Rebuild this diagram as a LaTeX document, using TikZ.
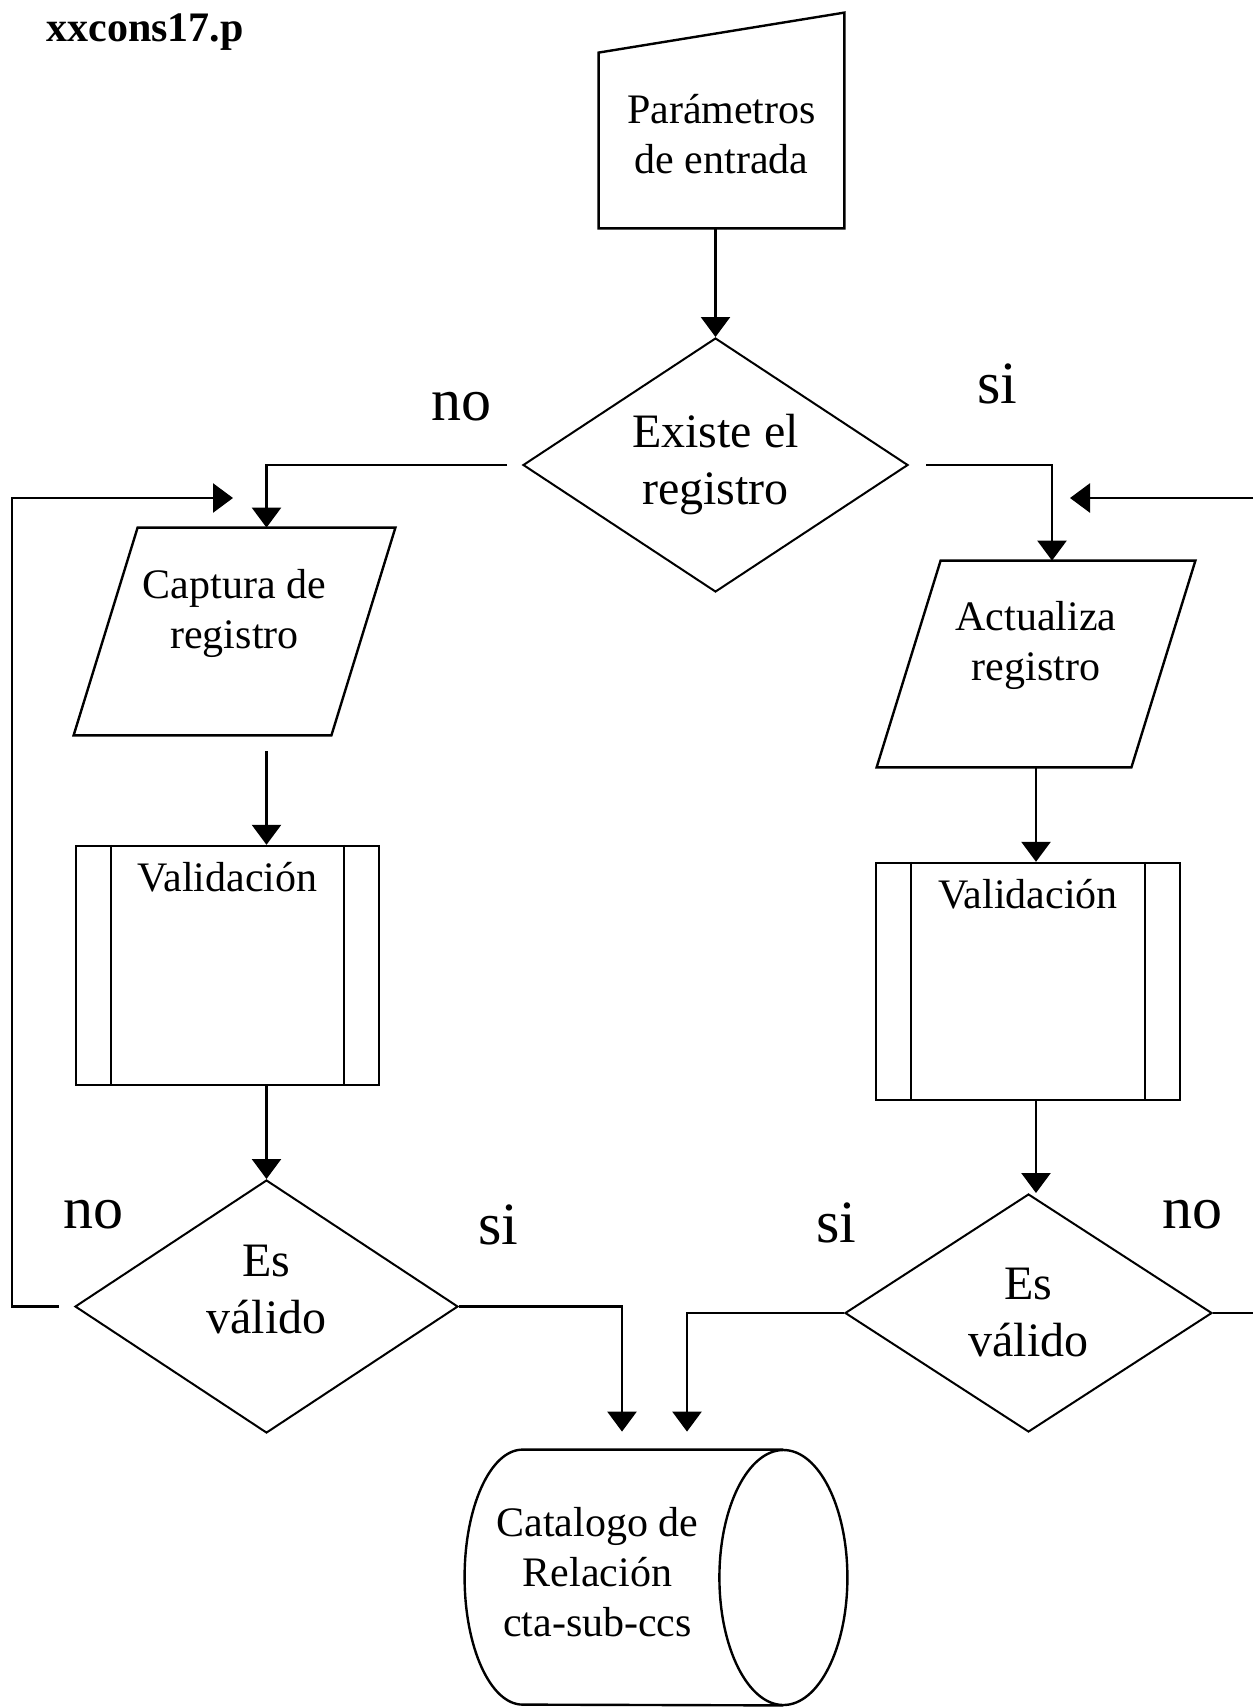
\documentclass[tikz,border=0pt]{standalone}
\usepackage{fontspec}
\setmainfont{Liberation Serif}
\usetikzlibrary{shapes.geometric,arrows.meta,positioning}

\begin{document}
\begin{tikzpicture}[x=0.5pt,y=-0.5pt,
  txt/.style={font=\fontsize{21}{25}\selectfont,align=center,inner sep=0pt},
  big/.style={font=\fontsize{24}{28.5}\selectfont,align=center,inner sep=0pt},
  yesno/.style={font=\fontsize{30}{34}\selectfont,anchor=base,inner sep=0pt},
  dec/.style={big,draw,line width=1pt,shape=diamond,aspect=1.5},
  valbox/.style={draw,line width=1.2pt,inner sep=0pt},
  outline/.style={line width=1.2pt},
  arr/.style={line width=1.3pt,-{Triangle[length=10pt,width=14.5pt]}},
  ln/.style={line width=1.3pt}]
\useasboundingbox (0,0) rectangle (1253,1707);

\node[font=\fontsize{21}{25}\selectfont\bfseries,anchor=base west,inner sep=0pt] (title) at (46,42) {xxcons17.p};

\node[txt,minimum width=122.5pt,minimum height=87.5pt,text depth=6.5pt] (param) at (721.5,140.5) {Parámetros\\de entrada};
\draw[outline] (param.south west) -- (param.north west) -- ([yshift=20pt]param.north east) -- (param.south east) -- cycle;

\node[dec,minimum width=192.5pt,minimum height=127pt] (exist) at (715.5,465) {Existe el\\registro};

\node[txt,minimum width=160.5pt,minimum height=103.5pt,text depth=23pt] (capt) at (234.5,631.5) {Captura de\\registro};
\draw[outline] ([xshift=32pt]capt.north west) -- (capt.north east) -- ([xshift=-32pt]capt.south east) -- (capt.south west) -- cycle;

\node[txt,minimum width=159pt,minimum height=103pt,text depth=23.5pt] (act) at (1036,664) {Actualiza\\registro};
\draw[outline] ([xshift=32pt]act.north west) -- (act.north east) -- ([xshift=-32pt]act.south east) -- (act.south west) -- cycle;

\node[valbox,minimum width=151.5pt,minimum height=119.5pt] (val1) at (227.5,965.5) {};
\draw[outline] ([xshift=18pt]val1.north west) -- ([xshift=18pt]val1.south west) ([xshift=-18pt]val1.north east) -- ([xshift=-18pt]val1.south east);
\node[txt,below=8.5pt of val1.north] (val1t) {Validación};

\node[valbox,minimum width=152pt,minimum height=118.5pt] (val2) at (1028,981.5) {};
\draw[outline] ([xshift=18pt]val2.north west) -- ([xshift=18pt]val2.south west) ([xshift=-18pt]val2.north east) -- ([xshift=-18pt]val2.south east);
\node[txt,below=8.5pt of val2.north] (val2t) {Validación};

\node[dec,minimum width=191.5pt,minimum height=126.5pt,text depth=17.5pt] (ok1) at (266.5,1306.5) {Es\\válido};
\node[dec,minimum width=183.5pt,minimum height=119pt] (ok2) at (1028.5,1313) {Es\\válido};

\node[inner sep=0pt,minimum width=130pt,minimum height=127.5pt] (cat) at (653,1577.5) {};
\draw[outline] (cat.north east) -- (cat.north west) arc[start angle=90,end angle=270,x radius=29pt,y radius=63.75pt] -- (cat.south east);
\draw[outline] (cat.east) ellipse [x radius=32pt,y radius=63.75pt];
\node[txt] (cattxt) at (597.5,1572.5) {Catalogo de\\Relación\\cta-sub-ccs};

\draw[arr] (param.south -| exist.north) -- (exist.north);
\draw[arr] ([xshift=-7.5pt]exist.west) -| (capt.north -| ok1.north);
\draw[arr] ([xshift=8.5pt]exist.east) -| ([xshift=8pt]act.north);
\draw[arr] ([xshift=16pt,yshift=-8pt]capt.south) -- (val1.north -| ok1.north);
\draw[arr] (val1.south -| ok1.north) -- (ok1.north);
\draw[arr] (act.south) -- (act.south |- val2.north);
\draw[arr] (val2.south -| act.south) -- (ok2.north -| act.south);
\draw[arr] (ok1.east) -| ([xshift=-15.5pt,yshift=9pt]cat.north);
\draw[arr] (ok2.west) -| ([xshift=17pt,yshift=9pt]cat.north);

\coordinate (lcorner) at (12,498);
\coordinate (ltip) at (233,498);
\draw[arr] ([xshift=-7.5pt]ok1.west) -| (lcorner) -- (ltip);
\coordinate (redge) at (1253,498);
\coordinate (rtip) at (1070,498);
\draw[arr] (redge) -- (rtip);
\draw[ln] (ok2.east) -- (ok2.east -| redge);

\node[yesno] (no1) at (461,420) {no};
\node[yesno] (si1) at (997,403) {si};
\node[yesno] (no2) at (93.5,1228) {no};
\node[yesno] (si2) at (498.5,1244) {si};
\node[yesno] (si3) at (836,1242) {si};
\node[yesno] (no3) at (1192,1228) {no};
\end{tikzpicture}
\end{document}
